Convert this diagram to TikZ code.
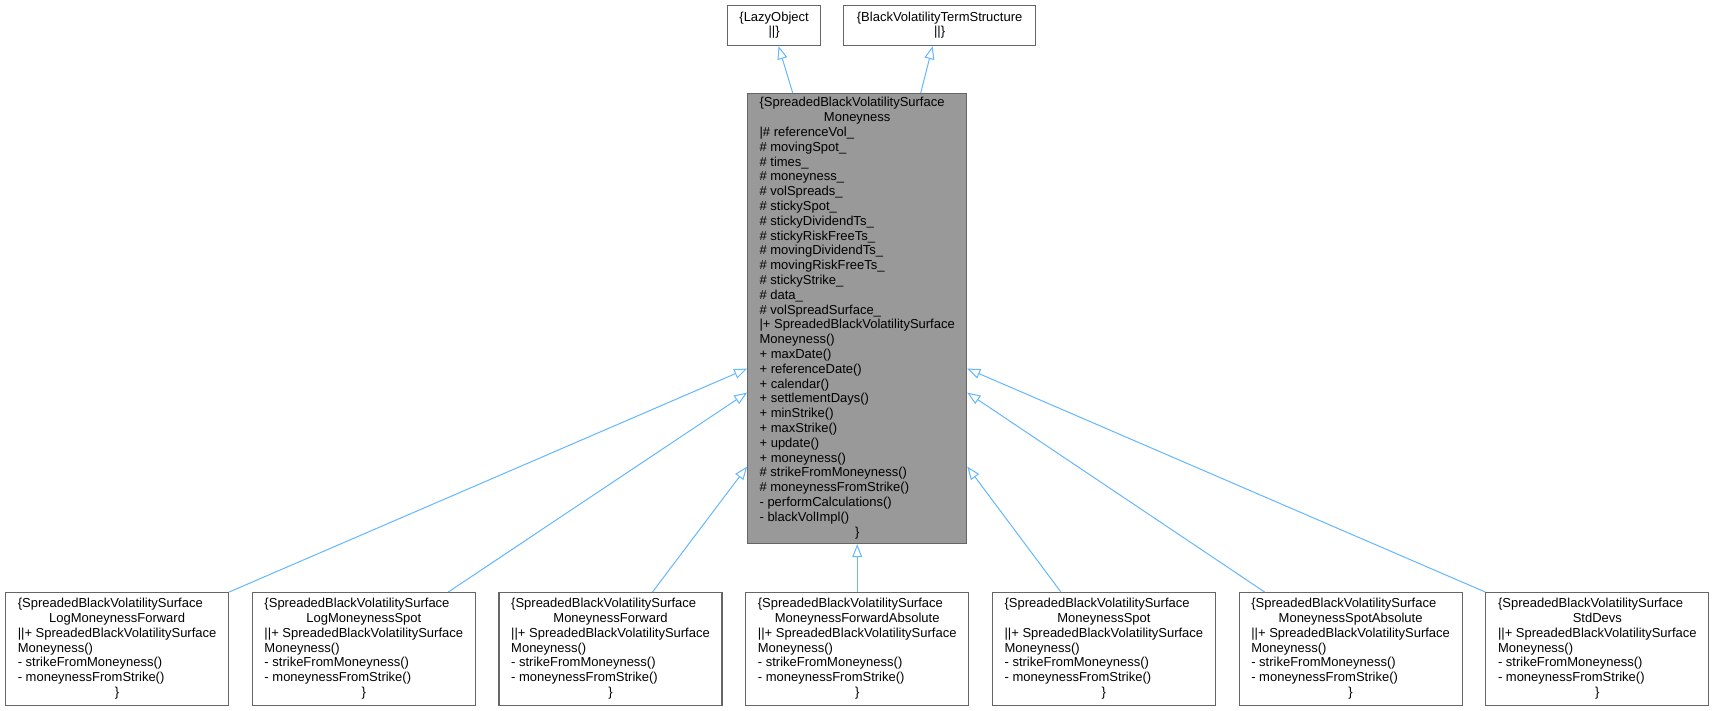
\documentclass[tikz,border=0pt]{standalone}
\usepackage{fontspec}
\setmainfont{Liberation Sans}
\usetikzlibrary{arrows.meta,positioning}
\definecolor{edgeblue}{HTML}{63B8FF}
\definecolor{boxgray}{HTML}{666666}
\definecolor{mainfill}{HTML}{999999}
\tikzstyle{classbox} = [draw=boxgray, line width=1.2pt, fill=white, rectangle, inner sep=0pt, minimum width=223pt, minimum height=113pt, font=\fontsize{13}{14.8}\selectfont]
\tikzstyle{basebox} = [classbox, minimum height=40pt]
\tikzstyle{mainbox} = [classbox, fill=mainfill, minimum width=219pt, minimum height=450pt]
\tikzstyle{inherit} = [draw=edgeblue, line width=1pt, -{Triangle[open, length=13pt, width=10pt]}]
\newcommand{\ctrline}[1]{\multicolumn{1}{@{}c@{}}{#1}}
\newcommand{\derived}[1]{\begin{tabular}{@{}l@{}}\{SpreadedBlackVolatilitySurface\\ \ctrline{#1}\\ ||+ SpreadedBlackVolatilitySurface\\ Moneyness()\\ - strikeFromMoneyness()\\ - moneynessFromStrike()\\ \ctrline{\}}\end{tabular}}

\begin{document}
\begin{tikzpicture}[x=1pt, y=-1pt]

\useasboundingbox [fill=white] (0,0) rectangle (1713,711);

% derived classes
\node [classbox, anchor=north west] (logfwd) at (5,592) {\derived{LogMoneynessForward}};
\node [classbox, right=22.5pt of logfwd] (logspot) {\derived{LogMoneynessSpot}};
\node [classbox, right=22.5pt of logspot] (fwd) {\derived{MoneynessForward}};
\node [classbox, right=22.5pt of fwd] (fwdabs) {\derived{MoneynessForwardAbsolute}};
\node [classbox, right=22.5pt of fwdabs] (spot) {\derived{MoneynessSpot}};
\node [classbox, right=22.5pt of spot] (spotabs) {\derived{MoneynessSpotAbsolute}};
\node [classbox, right=22.5pt of spotabs] (stddevs) {\derived{StdDevs}};

% the class itself
\node [mainbox, above=47.8pt of fwdabs] (sbvsm) {\begin{tabular}{@{}l@{}}
\{SpreadedBlackVolatilitySurface\\
\ctrline{Moneyness}\\
|\# referenceVol\_\\
\# movingSpot\_\\
\# times\_\\
\# moneyness\_\\
\# volSpreads\_\\
\# stickySpot\_\\
\# stickyDividendTs\_\\
\# stickyRiskFreeTs\_\\
\# movingDividendTs\_\\
\# movingRiskFreeTs\_\\
\# stickyStrike\_\\
\# data\_\\
\# volSpreadSurface\_\\
|+ SpreadedBlackVolatilitySurface\\
Moneyness()\\
+ maxDate()\\
+ referenceDate()\\
+ calendar()\\
+ settlementDays()\\
+ minStrike()\\
+ maxStrike()\\
+ update()\\
+ moneyness()\\
\# strikeFromMoneyness()\\
\# moneynessFromStrike()\\
- performCalculations()\\
- blackVolImpl()\\
\ctrline{\}}
\end{tabular}};

% base classes
\node [basebox, minimum width=93pt, anchor=north west] (lazy) at (727,5) {\begin{tabular}{@{}c@{}}\{LazyObject\\ ||\}\end{tabular}};
\node [basebox, minimum width=192pt, right=21.8pt of lazy] (bvts) {\begin{tabular}{@{}c@{}}\{BlackVolatilityTermStructure\\ ||\}\end{tabular}};

\draw [inherit] ([xshift=-64.5pt]sbvsm.north) -- ([xshift=4.5pt]lazy.south);
\draw [inherit] ([xshift=63.5pt]sbvsm.north) -- ([xshift=-7pt]bvts.south);

\draw [inherit] (logfwd.north east) -- ([yshift=-50pt]sbvsm.west);
\draw [inherit] ([xshift=84.5pt]logspot.north) -- ([yshift=-74pt]sbvsm.west);
\draw [inherit] ([xshift=42pt]fwd.north) -- ([yshift=-148pt]sbvsm.west);
\draw [inherit] (fwdabs.north) -- (sbvsm.south);
\draw [inherit] ([xshift=-43pt]spot.north) -- ([yshift=-148pt]sbvsm.east);
\draw [inherit] ([xshift=-86pt]spotabs.north) -- ([yshift=-74pt]sbvsm.east);
\draw [inherit] (stddevs.north west) -- ([yshift=-50pt]sbvsm.east);

\end{tikzpicture}
\end{document}
